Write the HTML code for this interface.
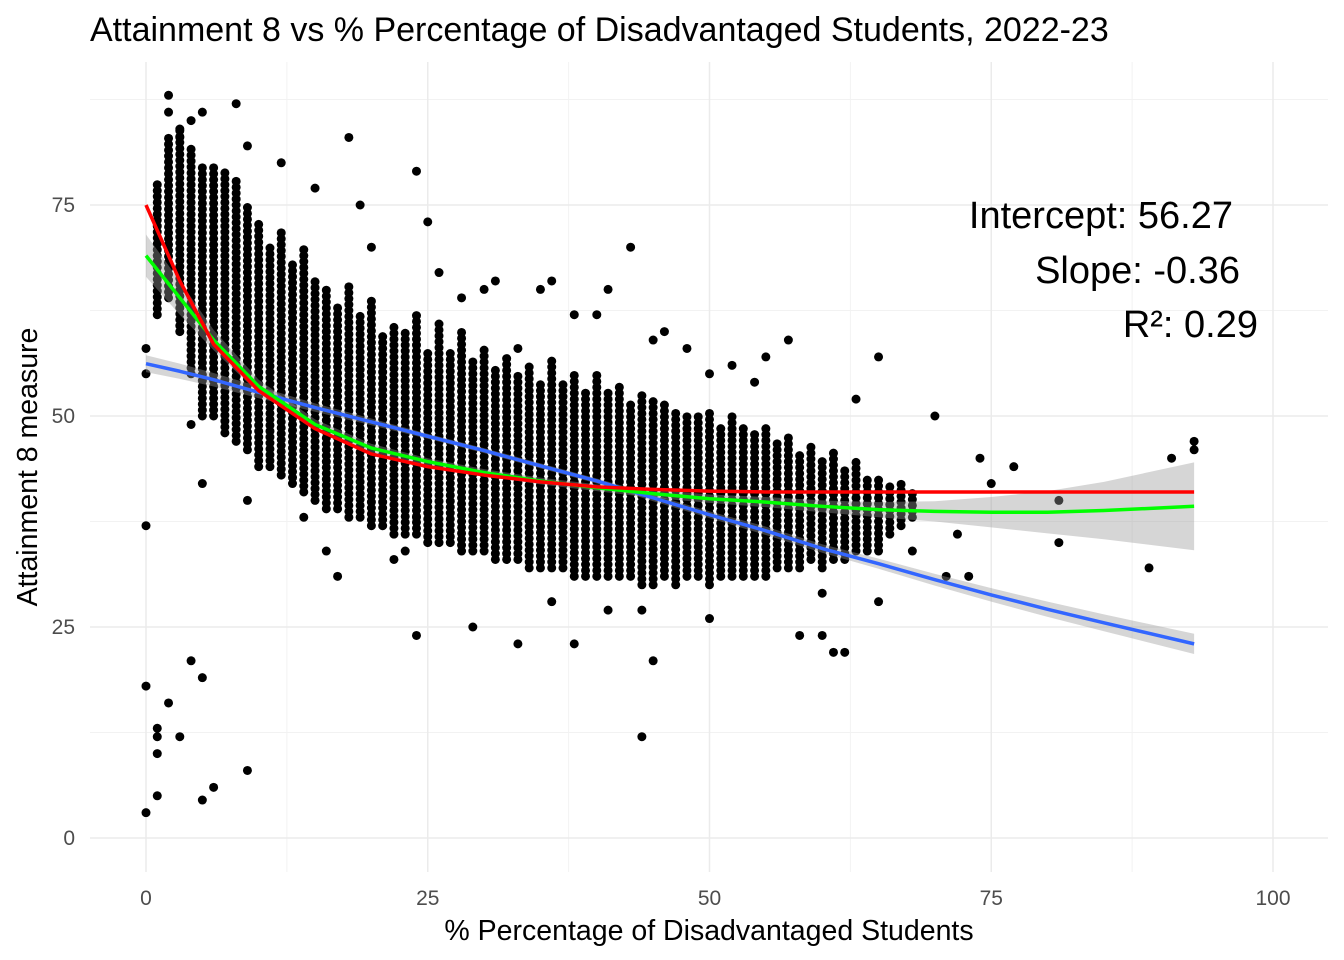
<!DOCTYPE html>
<html><head><meta charset="utf-8"><style>
body{margin:0;background:#fff;}
svg{display:block;font-family:"Liberation Sans",sans-serif;}
</style></head><body>
<svg id="chart" width="1344" height="960">
<rect width="1344" height="960" fill="#fff"/>
<g id="grid"></g>
<g id="dots"></g>
<g id="bands"></g>
<g id="lines"></g>
<g id="axes"></g>
<text x="90" y="41" font-size="34" fill="#000">Attainment 8 vs % Percentage of Disadvantaged Students, 2022-23</text>
<text x="709" y="940" font-size="28.5" text-anchor="middle" fill="#000">% Percentage of Disadvantaged Students</text>
<text transform="translate(37,467) rotate(-90)" font-size="28.5" text-anchor="middle" fill="#000">Attainment 8 measure</text>
<text x="1233" y="228" font-size="38" text-anchor="end">Intercept: 56.27</text>
<text x="1240" y="283" font-size="38" text-anchor="end">Slope: -0.36</text>
<text x="1258" y="337" font-size="38" text-anchor="end">R²: 0.29</text>
</svg>
<script>
const xTicks=[0,25,50,75,100];
const yTicks=[0,25,50,75];
// dense columns: x value, low y, high y
const colX=[1,2,3,4,5,6,7,8,9,10,11,12,13,14,15,16,17,18,19,20,21,22,23,24,25,26,27,28,29,30,31,32,33,34,35,36,37,38,39,40,41,42,43,44,45,46,47,48,49,50,51,52,53,54,55,56,57,58,59,60,61,62,63,64,65,66,67,68];
const colLo=[62,64,60,55,50,50,48,47,46,44,44,43,42,41,40,39,39,38,38,37,37,36,36,36,35,35,35,34,34,34,33,33,33,32,32,32,32,31,31,31,31,31,31,30,30,31,30,31,31,30,31,31,31,31,31,32,32,32,33,32,33,33,34,34,34,36,37,38];
const colHi=[78,83,84,82,80,80,79,78,75,73,70,72,68,70,66,65,63,66,62,64,60,61,60,62,58,61,58,60,57,58,56,57,55,56,54,57,54,55,53,55,53,54,52,53,52,52,51,50,50,51,49,50,49,48,49,47,48,46,47,45,46,44,45,43,43,42,42,41];
// outlier points
const outX=[0,0,0,0,0,1,1,1,1,2,2,3,3,4,5,5,6,9,2,3,4,5,5,8,9,12,15,18,19,20,24,25,24,26,28,30,31,33,35,36,38,40,41,43,44,45,46,48,50,52,55,57,60,61,62,63,65,70,72,74,75,77,81,81,89,91,93,93,17,24,29,33,38,45,16,9,4,14,22,23,54,58,60,65,68,71,73,44,36,41,50];
const outY=[58,55,37,18,3,13,12,10,5,16,88,84,12,21,19,4.5,6,8,86,83,85,86,42,87,82,80,77,83,75,70,79,73,24,67,64,65,66,23,65,66,23,62,65,70,12,21,60,58,55,56,57,59,24,22,22,52,57,50,36,45,42,44,40,35,32,45,46,47,31,38,25,58,62,59,34,40,49,38,33,34,54,24,29,28,34,31,31,27,28,27,26];
const lineX=[0,3,6,10,15,20,25,30,35,40,45,50,55,60,65,70,75,80,85,93];
const blueY=[56.2,55.3,54.3,52.8,51,49.3,47.6,45.9,44.1,42.3,40.3,38.3,36.4,34.3,32.5,30.6,28.8,27.1,25.5,23];
const redY=[75,66,58.5,53,48.5,45.5,44,43,42.2,41.6,41.3,41.1,41,41,41,41,41,41,41,41];
const greenY=[69,64,59,53.5,49,46.2,44.6,43.3,42.3,41.5,40.8,40.2,39.8,39.3,38.9,38.7,38.6,38.6,38.8,39.3];
const greenSE=[2.5,2,1.2,0.8,0.6,0.5,0.4,0.4,0.4,0.4,0.5,0.5,0.6,0.7,0.9,1.2,1.8,2.5,3.4,5.2];
const blueSE=[1,0.9,0.8,0.7,0.5,0.4,0.3,0.3,0.3,0.3,0.4,0.4,0.5,0.5,0.6,0.7,0.8,0.9,1,1.2];
const X=v=>146+v*11.27, Y=v=>838-v*8.44;
const NS='http://www.w3.org/2000/svg';
function mk(p,t,a){const e=document.createElementNS(NS,t);for(const k in a)e.setAttribute(k,a[k]);p.appendChild(e);return e;}
const grid=document.getElementById('grid');
[12.5,37.5,62.5,87.5].forEach(v=>{const l=mk(grid,'line',{x1:X(v),x2:X(v),y1:62,y2:872,stroke:'#f2f2f2','stroke-width':1});
 const m=mk(grid,'line',{x1:90,x2:1328,y1:Y(v),y2:Y(v),stroke:'#f2f2f2','stroke-width':1});});
const axes=document.getElementById('axes');
xTicks.forEach(v=>{const l=mk(grid,'line',{x1:X(v),x2:X(v),y1:62,y2:872,stroke:'#ebebeb','stroke-width':1.5});
 const t=mk(axes,'text',{x:X(v),y:905,'font-size':21,'text-anchor':'middle',fill:'#4d4d4d'});t.textContent=v;});
yTicks.forEach(v=>{const l=mk(grid,'line',{x1:90,x2:1328,y1:Y(v),y2:Y(v),stroke:'#ebebeb','stroke-width':1.5});
 const t=mk(axes,'text',{x:75,y:Y(v)+7,'font-size':21,'text-anchor':'end',fill:'#4d4d4d'});t.textContent=v;});
const dots=document.getElementById('dots');
colX.forEach((x,i)=>{for(let y=colLo[i];y<=colHi[i];y+=0.7){const c=mk(dots,'circle',{cx:X(x),cy:Y(y),r:4.5,fill:'#000'});}});
outX.forEach((x,i)=>{const c=mk(dots,'circle',{cx:X(x),cy:Y(outY[i]),r:4.5,fill:'#000'});});
const bands=document.getElementById('bands');
function band(ys,se,name){let up=lineX.map((x,i)=>X(x)+','+Y(ys[i]+se[i]));let dn=lineX.map((x,i)=>X(x)+','+Y(ys[i]-se[i])).reverse();
 const p=mk(bands,'polygon',{points:up.concat(dn).join(' '),fill:'#999','fill-opacity':0.4});}
const lines=document.getElementById('lines');
function line(ys,col,name){const p=mk(lines,'polyline',{points:lineX.map((x,i)=>X(x)+','+Y(ys[i])).join(' '),fill:'none',stroke:col,'stroke-width':3.5,'stroke-linejoin':'round'});}
band(blueY,blueSE,'blue-band');band(greenY,greenSE,'green-band');
line(blueY,'#3366ff','linear-fit-line');line(greenY,'#00ff00','loess-fit-line');line(redY,'#ff0000','exp-fit-line');
</script>
</body></html>
